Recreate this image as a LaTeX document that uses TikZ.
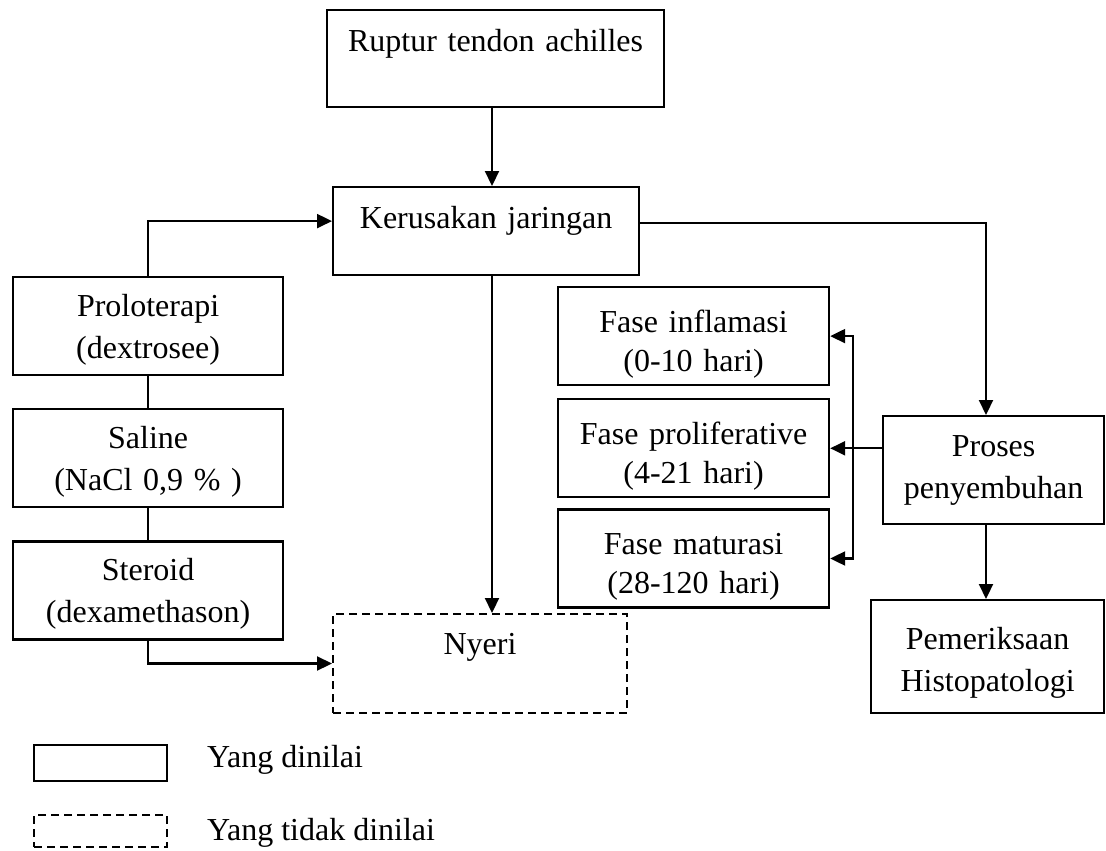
\documentclass[tikz,border=0pt]{standalone}
\usepackage{fontspec}
\setmainfont{Liberation Serif}
\usetikzlibrary{arrows.meta,positioning}

\begin{document}
\begin{tikzpicture}[
  x=1pt, y=-1pt, font=\fontsize{32}{42}\selectfont,
  >={Triangle[length=15pt,width=14pt]},
  bx/.style={draw,line width=2.2pt,inner sep=0pt,align=center,anchor=north west},
  dsh/.style={bx,line width=2pt,dash pattern=on 8pt off 5pt},
  hd/.style n args={3}{text width=#1pt,text height=#2pt,text depth=#3pt},
  ln/.style={line width=2.2pt},
  ar/.style={ln,->}]
\useasboundingbox (0,0) rectangle (1106,851);
\coordinate (mid) at (492,0);
\coordinate (heal) at (986,0);
\coordinate (brk) at (853,0);
% main column
\node[bx,hd={337}{41}{56}] (rupt) at (326,9) {Ruptur tendon achilles};
\node[bx,hd={306}{41}{47}] (kerus) at (332,186) {Kerusakan jaringan};
\node[dsh,hd={294}{40}{59}] (nyeri) at (332,613) {Nyeri};
% treatments
\node[bx,hd={270}{39}{59}] (prolo) at (12,276) {Proloterapi\\(dextrosee)};
\node[bx,hd={270}{39}{59},below=32pt of prolo] (salin) {Saline\\(NaCl 0,9 \% )};
\node[bx,hd={270}{39}{59},below=32pt of salin] (stero) {Steroid\\(dexamethason)};
% healing phases
\node[bx,hd={271}{45}{53}] (inflam) at (557,286) {Fase inflamasi\\[-3pt](0-10 hari)};
\node[bx,hd={271}{45}{53},below=12pt of inflam] (prolif) {Fase proliferative\\[-3pt](4-21 hari)};
\node[bx,hd={271}{45}{53},below=10pt of prolif] (matur) {Fase maturasi\\[-3pt](28-120 hari)};
\node[bx,hd={221}{40}{68}] (proses) at (882,415) {Proses\\penyembuhan};
\node[bx,hd={233}{49}{64}] (periksa) at (870,599) {Pemeriksaan\\Histopatologi};
% legend
\node[bx,minimum width=133pt,minimum height=36pt] (key1) at (33,744) {};
\node[dsh,minimum width=133pt,minimum height=32pt] (key2) at (33,814) {};
\node[anchor=base west,inner sep=0pt] (keytxt1) at (207,767) {Yang dinilai};
\node[anchor=base west,inner sep=0pt] (keytxt2) at (207,840) {Yang tidak dinilai};
% connectors
\draw[ar] (rupt.south -| mid) -- (kerus.north -| mid);
\draw[ar] (kerus.south -| mid) -- (nyeri.north -| mid);
\draw[ar] (prolo.north) |- ([yshift=10pt]kerus.west);
\draw[ln] (prolo) -- (salin);
\draw[ln] (salin) -- (stero);
\draw[ar] (stero.south) |- (nyeri.west);
\draw[ar] ([yshift=8pt]kerus.east) -| (proses.north -| heal);
\draw[ar] (proses.west |- prolif.east) -- (prolif.east);
\draw[ln,<->] (inflam.east) -- (inflam.east -| brk) -- (matur.east -| brk) -- (matur.east);
\draw[ar] (proses.south -| heal) -- (periksa.north -| heal);
\end{tikzpicture}
\end{document}
